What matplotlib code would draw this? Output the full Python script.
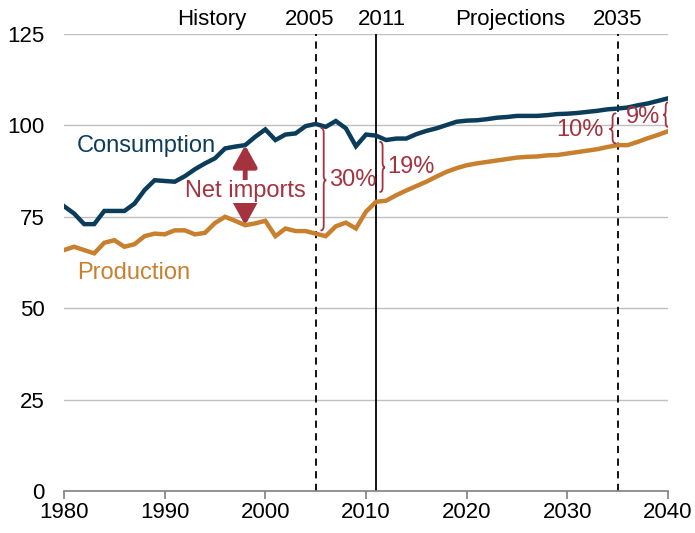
import matplotlib
matplotlib.use("Agg")
import matplotlib.pyplot as plt
from matplotlib.path import Path
from matplotlib.patches import PathPatch
import numpy as np

plt.rcParams['font.family'] = ['Liberation Sans', 'DejaVu Sans']

years = list(range(1980, 2041))
consumption = [77.9, 75.9, 73.0, 73.0, 76.6, 76.6, 76.6, 78.6, 82.3, 85.0,
               84.8, 84.6, 86.1, 88.0, 89.6, 91.0, 93.7, 94.2, 94.6, 96.9,
               98.9, 96.0, 97.5, 97.8, 99.8, 100.4, 99.6, 101.2, 99.2, 94.3,
               97.5, 97.2, 96.0, 96.4, 96.4, 97.6, 98.5, 99.2, 100.1, 101.0,
               101.3, 101.4, 101.7, 102.1, 102.3, 102.6, 102.6, 102.6, 102.8, 103.1,
               103.2, 103.4, 103.7, 104.0, 104.4, 104.6, 104.9, 105.5, 106.0, 106.7,
               107.4]
production = [65.9, 66.8, 65.9, 65.0, 67.9, 68.6, 66.8, 67.5, 69.7, 70.4,
              70.2, 71.3, 71.3, 70.2, 70.6, 73.3, 75.0, 73.9, 72.7, 73.2,
              73.9, 69.7, 71.8, 71.1, 71.1, 70.4, 69.7, 72.4, 73.4, 71.8,
              76.4, 79.1, 79.4, 80.9, 82.2, 83.4, 84.6, 86.0, 87.3, 88.3,
              89.1, 89.6, 90.0, 90.4, 90.8, 91.2, 91.4, 91.5, 91.8, 91.9,
              92.3, 92.7, 93.1, 93.5, 94.1, 94.6, 94.6, 95.5, 96.5, 97.4,
              98.4]
xticks = [1980, 1990, 2000, 2010, 2020, 2030, 2040]
yticks = [0, 25, 50, 75, 100, 125]
top_labels = ["History", "2005", "2011", "Projections", "2035"]
top_label_x = [1994.7, 2004.4, 2011.6, 2024.3, 2035.0]

C_CONS = '#0B3D5B'
C_PROD = '#C8802F'
C_RED = '#A5323F'

fig = plt.figure(figsize=(6.95, 5.33), dpi=100)
ax = fig.add_axes([0.0921, 0.0788, 0.8690, 0.8574])
ax.set_xlim(1980, 2040)
ax.set_ylim(0, 125)

for yv in yticks[1:]:
    ax.axhline(yv, color='#BFBFBF', lw=1.0, zorder=0)

ax.plot(years, production, color=C_PROD, lw=3.2, zorder=3, solid_joinstyle='miter')
ax.plot(years, consumption, color=C_CONS, lw=3.2, zorder=3, solid_joinstyle='miter')

ax.plot([2005, 2005], [0, 125], color='black', lw=1.3, ls=(0, (4, 3)), zorder=2)
ax.plot([2035, 2035], [0, 125], color='black', lw=1.3, ls=(0, (4, 3)), zorder=2)
ax.plot([2011, 2011], [0, 125], color='black', lw=1.3, zorder=2)

for sp in ['top', 'right', 'left']:
    ax.spines[sp].set_visible(False)
ax.spines['bottom'].set_color('#7F7F7F')
ax.spines['bottom'].set_linewidth(1.2)
ax.set_xticks(xticks)
ax.set_xticklabels([str(x) for x in xticks], fontsize=16)
ax.set_yticks(yticks)
ax.set_yticklabels([str(y) for y in yticks], fontsize=16)
ax.tick_params(axis='x', direction='out', length=6, color='#7F7F7F', width=1.2, pad=2)
ax.tick_params(axis='y', length=0, pad=14)

for lab, xv in zip(top_labels, top_label_x):
    ax.text(xv, 128.9, lab, ha='center', va='center', fontsize=16, clip_on=False)

ax.text(1981.3, 94.5, "Consumption", color=C_CONS, fontsize=17, ha='left', va='center')
ax.text(1981.3, 59.5, "Production", color=C_PROD, fontsize=17, ha='left', va='center')

# Net imports arrow
xa = 1998
ia = years.index(xa)
ystyle = dict(arrowstyle='-|>,head_length=0.65,head_width=0.36',
              color=C_RED, lw=3.5, shrinkA=0, shrinkB=0, mutation_scale=20)
ax.annotate('', xy=(xa, consumption[ia]), xytext=(xa, 82.0), arrowprops=ystyle, zorder=4)
ax.annotate('', xy=(xa, production[ia]), xytext=(xa, 82.0), arrowprops=ystyle, zorder=4)
ax.text(xa, 82.0, "Net imports", color=C_RED, fontsize=17, ha='center', va='center',
        zorder=5, bbox=dict(facecolor='white', edgecolor='none', pad=0.5))


def brace(x0, ytop, ybot, w, r, ymid=None):
    if ymid is None:
        ymid = (ytop + ybot) / 2
    xm = x0 + w / 2
    verts = [(x0, ytop), (xm, ytop), (xm, ytop - r),
             (xm, ymid + r),
             (xm, ymid), (x0 + w, ymid),
             (xm, ymid), (xm, ymid - r),
             (xm, ybot + r),
             (xm, ybot), (x0, ybot)]
    codes = [Path.MOVETO, Path.CURVE3, Path.CURVE3,
             Path.LINETO,
             Path.CURVE3, Path.CURVE3,
             Path.CURVE3, Path.CURVE3,
             Path.LINETO,
             Path.CURVE3, Path.CURVE3]
    ax.add_patch(PathPatch(Path(verts, codes), fill=False, edgecolor=C_RED, lw=1.3,
                           zorder=4, capstyle='round'))

brace(2005.55, 99.3, 71.3, 0.5, 1.3, ymid=85.0)
ax.text(2006.3, 85.0, "30%", color=C_RED, fontsize=17, ha='left', va='center')
brace(2011.4, 95.5, 81.8, 0.5, 1.3, ymid=88.5)
ax.text(2012.1, 88.6, "19%", color=C_RED, fontsize=17, ha='left', va='center')
brace(2034.8, 103.3, 95.1, -0.6, 1.2, ymid=99.0)
ax.text(2033.6, 98.8, "10%", color=C_RED, fontsize=17, ha='right', va='center')
brace(2040.0, 106.3, 99.6, -0.45, 1.1, ymid=102.9)
ax.text(2039.2, 102.2, "9%", color=C_RED, fontsize=17, ha='right', va='center')

fig.savefig('out.png', dpi=100)
